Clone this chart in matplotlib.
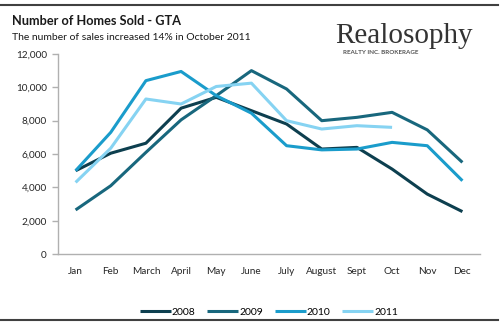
import matplotlib
matplotlib.use("Agg")
import matplotlib.pyplot as plt
from matplotlib.lines import Line2D

months = ["Jan", "Feb", "March", "April", "May", "June", "July", "August", "Sept", "Oct", "Nov", "Dec"]
s2008 = [5000, 6050, 6650, 8750, 9400, 8600, 7800, 6300, 6400, 5100, 3600, 2550]
s2009 = [2650, 4100, 6100, 8050, 9500, 11000, 9900, 8000, 8200, 8500, 7450, 5500]
s2010 = [5000, 7300, 10400, 10950, 9500, 8450, 6500, 6250, 6300, 6700, 6500, 4400]
s2011 = [4300, 6350, 9300, 9000, 10050, 10250, 8000, 7500, 7700, 7600]
series = {"2008": s2008, "2009": s2009, "2010": s2010, "2011": s2011}
colors = {"2008": "#0d3f4f", "2009": "#18677d", "2010": "#1a9ccb", "2011": "#86d3f2"}
yticks = [0, 2000, 4000, 6000, 8000, 10000, 12000]

plt.rcParams['font.family'] = ['Lato', 'DejaVu Sans']
fig = plt.figure(figsize=(5, 3.25), dpi=100)
ax = fig.add_axes([0.116, 0.218, 0.844, 0.616])

for name, vals in series.items():
    ax.plot(range(len(vals)), vals, color=colors[name], lw=2.2, label=name, solid_capstyle='butt')

ax.set_ylim(0, 12000)
ax.set_xlim(-0.5, 11.5)
ax.set_yticks(yticks)
ax.set_yticklabels([f"{v:,}" for v in yticks])
ax.set_xticks(range(12))
ax.set_xticklabels(months)
for s in ["top", "right"]:
    ax.spines[s].set_visible(False)
for s in ["left", "bottom"]:
    ax.spines[s].set_color("#b0b0b0")
    ax.spines[s].set_linewidth(1.0)
ax.tick_params(axis='y', colors="#b0b0b0", labelcolor="#262626", labelsize=7.2, length=4, width=1, pad=4)
ax.tick_params(axis='x', length=0, labelcolor="#262626", labelsize=7.2, pad=9)

fig.text(0.024, 0.935, "Number of Homes Sold - GTA", fontsize=9.2, fontweight='bold', color="#1a1a1a", va='center')
fig.text(0.024, 0.885, "The number of sales increased 14% in October 2011", fontsize=7.5, color="#1a1a1a", va='center')

fig.text(0.807, 0.889, "Realosophy", fontsize=21, family=['Liberation Serif'], color="#333333", ha='center', va='center')
fig.text(0.762, 0.838, "REALTY INC. BROKERAGE", fontsize=4.5, fontweight='bold', color="#555555", ha='center', va='center')

fig.add_artist(Line2D([0.0, 0.996], [0.985, 0.985], color="#404040", lw=1.5, transform=fig.transFigure))
fig.add_artist(Line2D([0.0, 0.996], [0.015, 0.015], color="#404040", lw=1.5, transform=fig.transFigure))

fig.legend(loc='center', bbox_to_anchor=(0.538, 0.04), ncol=4, frameon=False, fontsize=7.5,
           handlelength=3.0, handletextpad=0.1, columnspacing=1.1)

fig.savefig("out.png", dpi=100)
